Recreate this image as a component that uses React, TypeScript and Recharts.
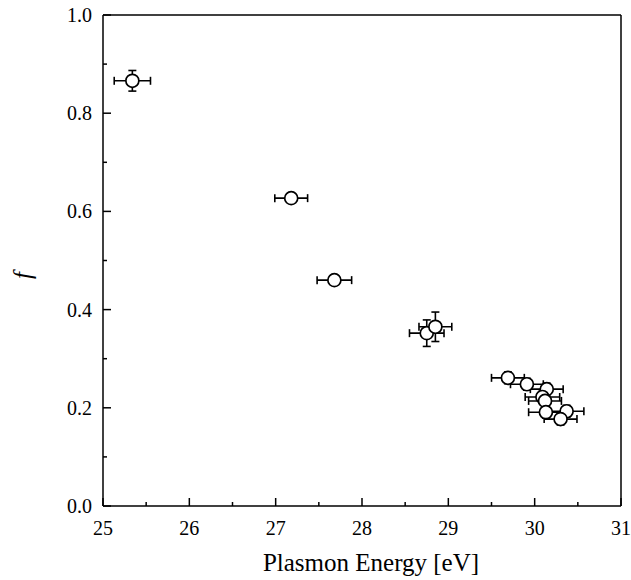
import { ScatterChart, Scatter, XAxis, YAxis, ErrorBar } from "recharts";

// plasmon energy (eV) and fraction f
const energy = [25.34, 27.18, 27.68, 28.75, 28.85, 29.69, 29.91, 30.14, 30.09, 30.12, 30.13, 30.37, 30.3];
const fraction = [0.866, 0.627, 0.46, 0.352, 0.365, 0.261, 0.248, 0.238, 0.222, 0.214, 0.191, 0.193, 0.177];
const energyErr = [0.21, 0.19, 0.2, 0.2, 0.19, 0.19, 0.19, 0.19, 0.2, 0.19, 0.2, 0.2, 0.19];
const fractionErr = [0.021, 0.01, 0.01, 0.027, 0.03, 0.012, 0.012, 0.012, 0.012, 0.012, 0.012, 0.012, 0.012];

const xTicks = [25, 25.5, 26, 26.5, 27, 27.5, 28, 28.5, 29, 29.5, 30, 30.5, 31];
const xLabels = ["25", "26", "27", "28", "29", "30", "31"];
const yTicks = [0, 0.1, 0.2, 0.3, 0.4, 0.5, 0.6, 0.7, 0.8, 0.9, 1.0];
const yLabels = ["0.0", "0.2", "0.4", "0.6", "0.8", "1.0"];

const data = energy.map((e, i) => ({
  e,
  f: fraction[i],
  ex: energyErr[i],
  fy: fractionErr[i],
}));

const FONT = "Liberation Serif, Times New Roman, serif";
const txt = { fontFamily: FONT };

// ticks point into the plot box on every side
const BottomTick = (props: any) => {
  const { x, y, payload } = props;
  const label = xLabels.find((l) => Number(l) === payload.value);
  return (
    <g>
      <line x1={x} x2={x} y1={y} y2={y - (label ? 8 : 4)} stroke="#000" strokeWidth={1.5} />
      {label && (
        <text x={x} y={y + 29} textAnchor="middle" fontSize={20} style={txt} fill="#000">
          {label}
        </text>
      )}
    </g>
  );
};

const TopTick = (props: any) => {
  const { x, y, payload } = props;
  const major = Number.isInteger(payload.value);
  return <line x1={x} x2={x} y1={y} y2={y + (major ? 8 : 4)} stroke="#000" strokeWidth={1.5} />;
};

const LeftTick = (props: any) => {
  const { x, y, payload } = props;
  const label = yLabels.find((l) => Math.abs(Number(l) - payload.value) < 1e-6);
  return (
    <g>
      <line x1={x} x2={x + (label ? 8 : 4)} y1={y} y2={y} stroke="#000" strokeWidth={1.5} />
      {label && (
        <text x={x - 11} y={y} dy="0.35em" textAnchor="end" fontSize={20} style={txt} fill="#000">
          {label}
        </text>
      )}
    </g>
  );
};

const RightTick = (props: any) => {
  const { x, y, payload } = props;
  const major = yLabels.some((l) => Math.abs(Number(l) - payload.value) < 1e-6);
  return <line x1={x} x2={x - (major ? 8 : 4)} y1={y} y2={y} stroke="#000" strokeWidth={1.5} />;
};

const OpenCircle = (props: any) => (
  <circle cx={props.cx} cy={props.cy} r={6.5} fill="#fff" stroke="#000" strokeWidth={1.7} />
);

const FLabel = (props: any) => {
  const vb = props.viewBox || {};
  const cx = vb.x + 22;
  const cy = vb.y + vb.height / 2 + 15;
  return (
    <text
      x={cx}
      y={cy}
      transform={`rotate(-90 ${cx} ${cy})`}
      textAnchor="middle"
      dy="0.35em"
      fontSize={25}
      fontStyle="italic"
      style={txt}
      fill="#000"
    >
      f
    </text>
  );
};

const XLabel = (props: any) => {
  const vb = props.viewBox || {};
  return (
    <text x={vb.x + vb.width / 2 + 9} y={vb.y + vb.height - 5} textAnchor="middle" fontSize={25} style={txt} fill="#000">
      Plasmon Energy [eV]
    </text>
  );
};

export default function App() {
  return (
    <div style={{ position: "absolute", left: 0, top: 0, width: 631, height: 580, background: "#fff" }}>
      <ScatterChart width={631} height={580} margin={{ top: 14, right: 9, bottom: 4, left: 0 }}>
        <XAxis
          dataKey="e"
          type="number"
          domain={[25, 31]}
          ticks={xTicks}
          interval={0}
          height={70}
          tickSize={0}
          tickMargin={0}
          tickLine={false}
          tick={<BottomTick />}
          axisLine={{ stroke: "#000", strokeWidth: 1.5 }}
          label={{ content: <XLabel /> }}
        />
        <XAxis
          xAxisId="top"
          orientation="top"
          type="number"
          domain={[25, 31]}
          ticks={xTicks}
          interval={0}
          height={1}
          tickSize={0}
          tickMargin={0}
          tickLine={false}
          tick={<TopTick />}
          axisLine={{ stroke: "#000", strokeWidth: 1.5 }}
        />
        <YAxis
          dataKey="f"
          type="number"
          domain={[0, 1]}
          ticks={yTicks}
          interval={0}
          width={103}
          tickSize={0}
          tickMargin={0}
          tickLine={false}
          tick={<LeftTick />}
          axisLine={{ stroke: "#000", strokeWidth: 1.5 }}
          label={{ content: <FLabel /> }}
        />
        <YAxis
          yAxisId="right"
          orientation="right"
          type="number"
          domain={[0, 1]}
          ticks={yTicks}
          interval={0}
          width={1}
          tickSize={0}
          tickMargin={0}
          tickLine={false}
          tick={<RightTick />}
          axisLine={{ stroke: "#000", strokeWidth: 1.5 }}
        />
        <Scatter data={data} shape={<OpenCircle />} isAnimationActive={false}>
          <ErrorBar dataKey="ex" direction="x" width={4} stroke="#000" strokeWidth={1.6} />
          <ErrorBar dataKey="fy" direction="y" width={4} stroke="#000" strokeWidth={1.6} />
        </Scatter>
      </ScatterChart>
    </div>
  );
}
